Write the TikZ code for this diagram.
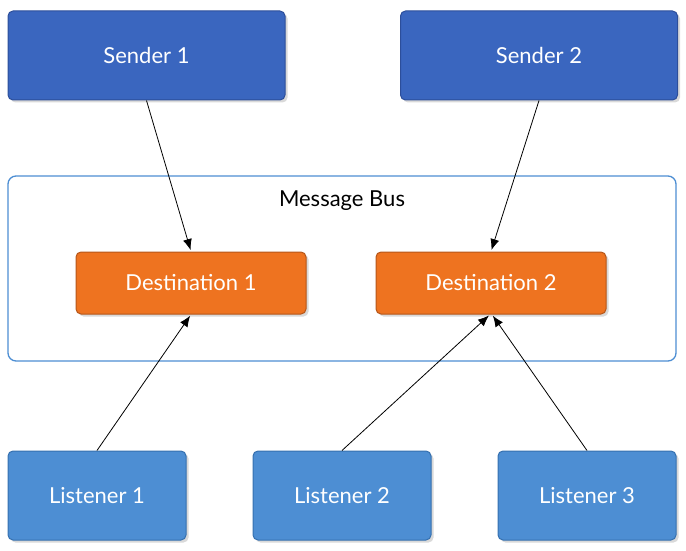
\documentclass[tikz,border=0pt]{standalone}
\usepackage{fontspec}
\setmainfont{Lato}
\usetikzlibrary{arrows.meta,shadows}
\definecolor{senderfill}{HTML}{3A66BF}
\definecolor{senderdraw}{HTML}{2C4E9A}
\definecolor{destfill}{HTML}{EE7320}
\definecolor{destdraw}{HTML}{B5561A}
\definecolor{listfill}{HTML}{4D8ED3}
\definecolor{listdraw}{HTML}{3570AF}
\definecolor{busdraw}{HTML}{4D8ED3}
\tikzset{
  box/.style={rectangle, rounded corners=5pt, line width=1pt, text=white,
    font=\fontsize{22}{26}\selectfont,
    drop shadow={opacity=0.3, shadow xshift=2.5pt, shadow yshift=-2.5pt}},
  sender/.style={box, fill=senderfill, draw=senderdraw, minimum width=277pt, minimum height=89pt},
  dest/.style={box, fill=destfill, draw=destdraw, minimum width=230pt, minimum height=62pt},
  listener/.style={box, fill=listfill, draw=listdraw, minimum width=178pt, minimum height=89pt},
  bus/.style={rectangle, rounded corners=8pt, draw=busdraw, line width=1.3pt, minimum width=668pt, minimum height=185pt},
  conn/.style={-{Latex[length=11pt,width=9pt]}, line width=0.8pt, shorten >=1.5pt}
}
\begin{document}
\begin{tikzpicture}[x=1pt,y=-1pt]
\useasboundingbox (0,0) rectangle (686,551);
\node[bus] (bus) at (342,268.5) {};
\node[font=\fontsize{22}{26}\selectfont] (buslabel) at (342,201) {Message Bus};
\node[sender] (s1) at (146.5,55.5) {Sender 1};
\node[sender] (s2) at (539,55.5) {Sender 2};
\node[dest] (d1) at (191,283) {Destination 1};
\node[dest] (d2) at (491,283) {Destination 2};
\node[listener] (l1) at (97,495.5) {Listener 1};
\node[listener] (l2) at (342,495.5) {Listener 2};
\node[listener] (l3) at (587,495.5) {Listener 3};
\draw[conn] (s1.south) -- (d1.north);
\draw[conn] (s2.south) -- (d2.north);
\draw[conn] (l1.north) -- (d1.south);
\draw[conn] (l2.north) -- ([xshift=-1pt]d2.south);
\draw[conn] (l3.north) -- ([xshift=1pt]d2.south);
\end{tikzpicture}
\end{document}
